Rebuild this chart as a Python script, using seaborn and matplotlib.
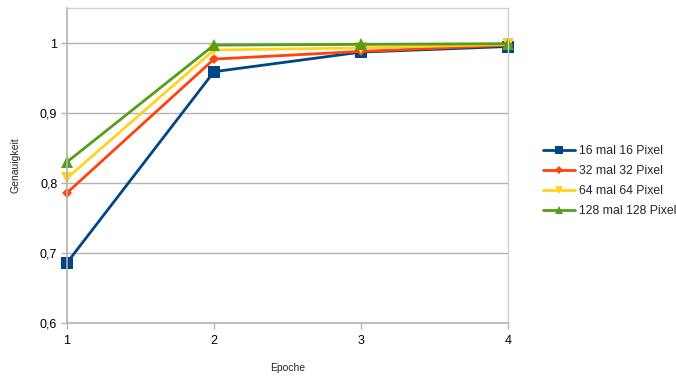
import matplotlib
matplotlib.use("Agg")
import matplotlib.pyplot as plt
import seaborn as sns
import pandas as pd
from matplotlib.ticker import FuncFormatter

epochs = [1, 2, 3, 4]
px16 = [0.686, 0.959, 0.987, 0.995]
px32 = [0.786, 0.977, 0.988, 0.997]
px64 = [0.807, 0.990, 0.993, 0.998]
px128 = [0.830, 0.997, 0.998, 0.999]
series_names = ["16 mal 16 Pixel", "32 mal 32 Pixel", "64 mal 64 Pixel", "128 mal 128 Pixel"]

rows = []
for name, vals in zip(series_names, [px16, px32, px64, px128]):
    for e, v in zip(epochs, vals):
        rows.append({"Epoche": e, "Genauigkeit": v, "Serie": name})
df = pd.DataFrame(rows)

sns.set_theme(style="white")
plt.rcParams["font.family"] = ["Liberation Sans", "DejaVu Sans"]

colors = {
    series_names[0]: "#004586",
    series_names[1]: "#ff420e",
    series_names[2]: "#ffd320",
    series_names[3]: "#579d1c",
}
markers = {
    series_names[0]: "s",
    series_names[1]: "D",
    series_names[2]: "v",
    series_names[3]: "^",
}
msizes = {series_names[0]: 8, series_names[1]: 5.5, series_names[2]: 8, series_names[3]: 8}

fig = plt.figure(figsize=(6.76, 3.76), dpi=100)
ax = fig.add_axes([0.0991, 0.141, 0.6524, 0.8377])

for name in series_names:
    sub = df[df["Serie"] == name]
    sns.lineplot(data=sub, x="Epoche", y="Genauigkeit", ax=ax, color=colors[name],
                 marker=markers[name], markersize=msizes[name], markeredgewidth=0,
                 linewidth=2.0, label=name, clip_on=False)

ax.set_xlim(1, 4)
ax.set_ylim(0.6, 1.05)
ax.set_xticks(epochs)
ax.set_yticks([0.6, 0.7, 0.8, 0.9, 1.0])

def fmt(v, pos):
    s = f"{v:.1f}"
    if s.endswith(".0"):
        s = s[:-2]
    return s.replace(".", ",")

ax.yaxis.set_major_formatter(FuncFormatter(fmt))
ax.grid(axis="y", color="#b3b3b3", linewidth=1.0)
ax.set_axisbelow(True)
for side in ["left", "bottom"]:
    ax.spines[side].set_color("#b3b3b3")
    ax.spines[side].set_linewidth(1.2)
for side in ["top", "right"]:
    ax.spines[side].set_color("#d0d0d0")
    ax.spines[side].set_linewidth(1.0)
ax.tick_params(axis="both", which="major", length=4, width=1, color="#b3b3b3",
               labelsize=9, labelcolor="#000000", direction="out", pad=3)
ax.tick_params(axis="x", bottom=True, pad=5)
ax.tick_params(axis="y", left=True)

ax.set_xlabel("Epoche", fontsize=7.5, labelpad=11)
ax.set_ylabel("Genauigkeit", fontsize=7.5, labelpad=14)

leg = ax.legend(loc="center left", bbox_to_anchor=(1.055, 0.45), frameon=False,
                fontsize=8.8, handlelength=2.6, handletextpad=0.3, labelspacing=0.65,
                markerscale=0.7)

fig.savefig("out.png", dpi=100)
